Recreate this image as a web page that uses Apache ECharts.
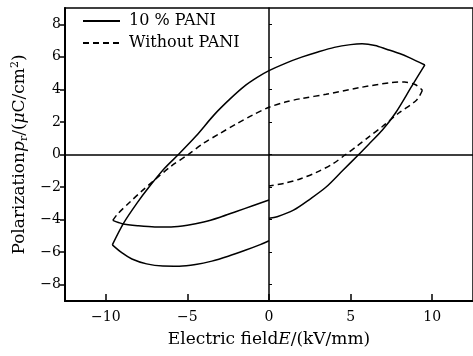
<!DOCTYPE html>
<html>
<head>
<meta charset="utf-8">
<script src="https://cdn.jsdelivr.net/npm/echarts@6/dist/echarts.min.js"></script>
<style>
	html, body { margin: 0; padding: 0; background: #fff; }
	#chart { width: 473px; height: 356px; }
</style>
</head>
<body>
<div id="chart"></div>
<script>
// tick values
var xTicks = [-10, -5, 0, 5, 10];
var yTicks = [-8, -6, -4, -2, 0, 2, 4, 6, 8];
var legendNames = ['10 % PANI', 'Without PANI'];

// 10 % PANI loop, [E kV/mm, P uC/cm2]
var pani10Upper = [[-9.6, -5.55], [-8.9, -4.2], [-8.1, -3.0], [-7.35, -2.0], [-6.4, -0.85], [-5.55, 0], [-4.5, 1.1], [-3.35, 2.45], [-2.4, 3.4], [-1.5, 4.2], [-0.7, 4.75], [0, 5.15], [1, 5.6], [2, 5.98], [3, 6.3], [4, 6.58], [5, 6.75], [5.7, 6.8], [6.5, 6.7], [7.2, 6.47], [8, 6.2], [8.6, 5.95], [9.55, 5.5]];
var pani10Lower = [[9.55, 5.5], [8.75, 4.2], [7.75, 2.55], [6.95, 1.5], [6.2, 0.72], [5.5, 0], [4.5, -1.0], [3.5, -2.0], [2.5, -2.75], [1.5, -3.42], [0.5, -3.82], [0, -3.92]];
var pani10LowerLeft = [[0, -5.3], [-0.5, -5.52], [-1.5, -5.9], [-2.5, -6.25], [-3.5, -6.55], [-4.5, -6.76], [-5.5, -6.86], [-6.5, -6.85], [-7.5, -6.72], [-8.4, -6.42], [-9.0, -6.05], [-9.6, -5.55]];

// without PANI loop
var noPaniUpper = [[-9.57, -4.05], [-9.3, -3.68], [-8.5, -2.9], [-7.8, -2.25], [-7.05, -1.6], [-6.0, -0.72], [-4.95, 0], [-4.0, 0.7], [-3.0, 1.3], [-2.0, 1.88], [-1.0, 2.42], [0, 2.9], [1, 3.22], [2, 3.44], [3.5, 3.7], [5.5, 4.1], [7.5, 4.42], [8.3, 4.45], [8.95, 4.3], [9.4, 3.95]];
var noPaniLower = [[9.4, 3.95], [9.05, 3.35], [7.95, 2.55], [6.95, 1.72], [6.1, 1.07], [5.4, 0.52], [4.7, 0], [3.9, -0.58], [2.9, -1.1], [1.9, -1.5], [0.9, -1.78], [0, -1.93]];
// this part of the loop is drawn with a solid line in the figure
var noPaniLowerLeft = [[0, -2.8], [-1, -3.15], [-2, -3.5], [-3, -3.85], [-4, -4.15], [-5, -4.35], [-6, -4.45], [-7, -4.45], [-8, -4.38], [-9, -4.25], [-9.57, -4.05]];

window.onload = function() {
	var font = 'DejaVu Serif';
	function minus(v) { //负号
		return String(v).replace('-', '\u2212');
	}
	function branch(name, data, dashed) {
		return {
			name: name,
			type: 'line',
			data: data,
			smooth: 0.3,
			symbol: 'none',
			animation: false,
			itemStyle: { color: '#000' },
			lineStyle: {
				color: '#000',
				width: 1.5,
				type: dashed ? [6, 4] : 'solid'
			}
		};
	}
	var chartOption = {
		backgroundColor: '#fff',
		animation: false,
		grid: {
			left: 65,
			right: -6,
			top: 8,
			bottom: 55,
			show: true,
			borderColor: '#000',
			borderWidth: 1.5
		},
		legend: {
			data: legendNames,
			orient: 'vertical',
			left: 77,
			top: 8,
			itemWidth: 37,
			itemHeight: 14,
			itemGap: 6,
			itemStyle: { opacity: 0 },
			textStyle: {
				fontFamily: font,
				fontSize: 16,
				color: '#000',
				padding: [0, 0, 0, 4]
			}
		},
		xAxis: [{
			type: 'value',
			min: -12.5,
			max: 12.5,
			name: '{n|Electric field}{i|E}{n|/(kV/mm)}',
			nameLocation: 'middle',
			nameGap: 30,
			nameTextStyle: {
				fontFamily: font,
				fontSize: 17,
				color: '#000',
				rich: {
					n: { fontFamily: font, fontSize: 17, color: '#000' },
					i: { fontFamily: font, fontSize: 17, color: '#000', fontStyle: 'italic' }
				}
			},
			axisLine: { onZero: false, lineStyle: { color: '#000', width: 2 } },
			axisTick: { inside: true, length: 7, customValues: xTicks, lineStyle: { color: '#000', width: 1.5 } },
			axisLabel: {
				customValues: xTicks,
				margin: 9,
				fontFamily: font,
				fontSize: 14,
				color: '#000',
				formatter: minus
			},
			splitLine: { show: false }
		}, {
			type: 'value',
			min: -12.5,
			max: 12.5,
			position: 'bottom',
			axisLine: { onZero: true, lineStyle: { color: '#000', width: 1.5 } },
			axisTick: { show: false },
			axisLabel: { show: false },
			splitLine: { show: false }
		}],
		yAxis: [{
			type: 'value',
			min: -9,
			max: 9,
			name: '{n|Polarization}{i|p}{sub|r}{n|/(}{i|\u03bc}{n|C/cm}{sup|2}{n|)}',
			nameLocation: 'middle',
			nameRotate: 90,
			nameGap: 30,
			nameTextStyle: {
				fontFamily: font,
				fontSize: 17,
				color: '#000',
				rich: {
					n: { fontFamily: font, fontSize: 17, color: '#000' },
					i: { fontFamily: font, fontSize: 17, color: '#000', fontStyle: 'italic' },
					sub: { fontFamily: font, fontSize: 11, color: '#000', padding: [9, 0, 0, 0] },
					sup: { fontFamily: font, fontSize: 11, color: '#000', padding: [0, 0, 9, 0] }
				}
			},
			axisLine: { onZero: false, lineStyle: { color: '#000', width: 2 } },
			axisTick: { inside: false, length: 5, customValues: yTicks, lineStyle: { color: '#000', width: 1.5 } },
			axisLabel: {
				customValues: yTicks,
				margin: 4,
				fontFamily: font,
				fontSize: 14,
				color: '#000',
				formatter: minus
			},
			splitLine: { show: false }
		}, {
			type: 'value',
			min: -9,
			max: 9,
			position: 'right',
			axisLine: { onZero: true, lineStyle: { color: '#000', width: 1.5 } },
			axisTick: { inside: false, length: 3, customValues: yTicks, lineStyle: { color: '#000', width: 1 } },
			axisLabel: { show: false },
			splitLine: { show: false }
		}],
		series: [
			branch(legendNames[0], pani10Upper, false),
			branch(legendNames[0], pani10Lower, false),
			branch(legendNames[0], pani10LowerLeft, false),
			branch(legendNames[1], noPaniUpper, true),
			branch(legendNames[1], noPaniLower, true),
			branch('Without PANI (lower left)', noPaniLowerLeft, false)
		]
	};
	var chart = echarts.init(document.getElementById('chart'));
	chart.setOption(chartOption);
};
</script>
</body>
</html>
